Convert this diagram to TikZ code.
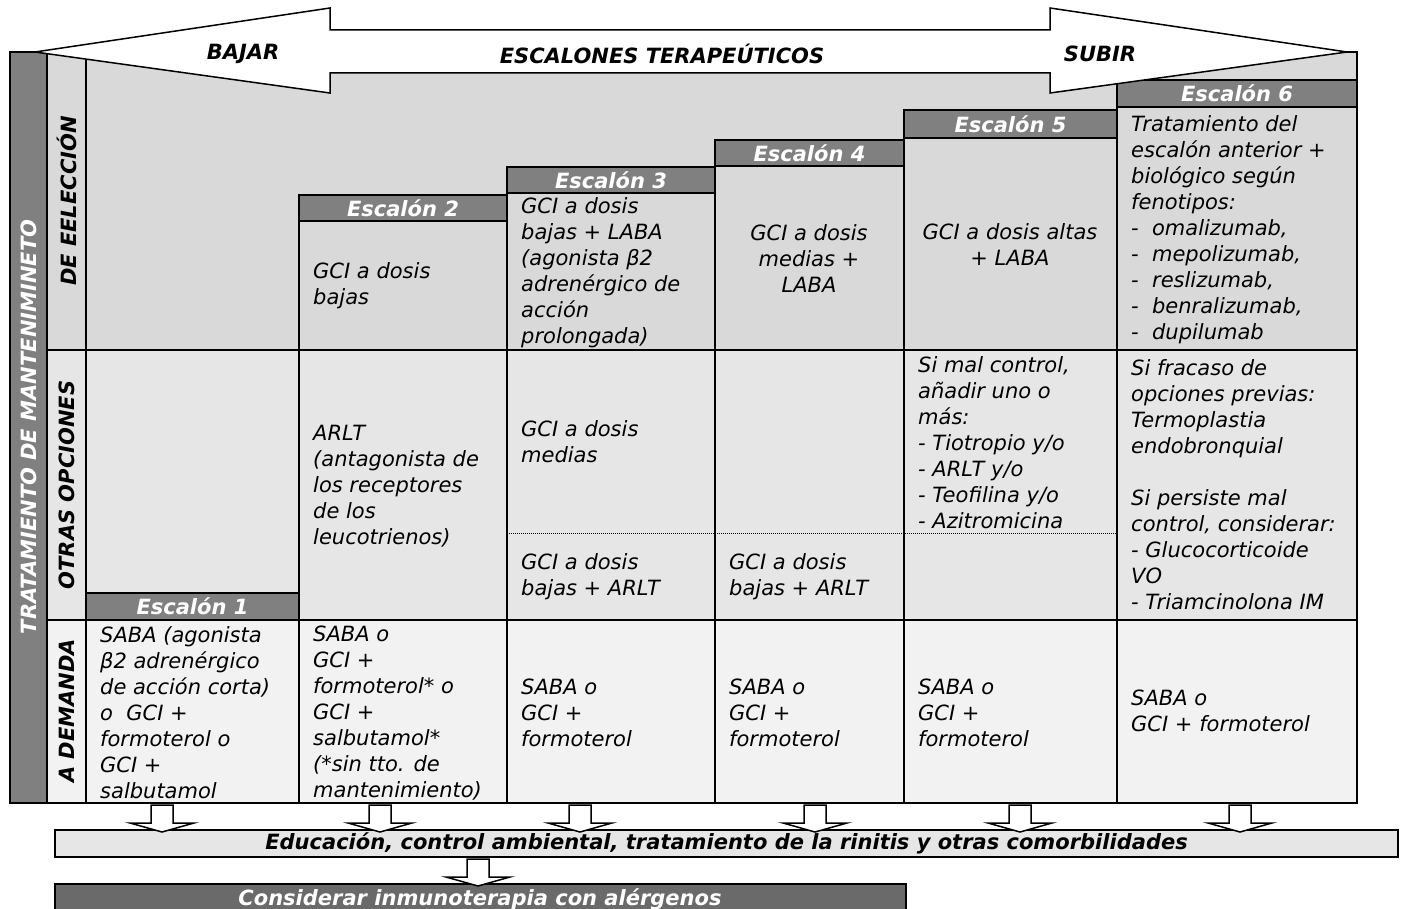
\documentclass[tikz,border=0pt]{standalone}
\usepackage{fontspec}
\setmainfont{DejaVu Sans}[ItalicFont={DejaVu Sans Oblique},BoldFont={DejaVu Sans Bold},BoldItalicFont={DejaVu Sans Bold Oblique}]

\definecolor{grisosc}{HTML}{808080}
\definecolor{grisbarra}{HTML}{6A6A6A}
\definecolor{gris1}{HTML}{D9D9D9}
\definecolor{gris2}{HTML}{E6E6E6}
\definecolor{gris3}{HTML}{F2F2F2}

\tikzset{
  linea/.style={line width=2.4pt},
  cel/.style={font=\itshape\fontsize{21}{26}\selectfont, align=left, inner sep=0pt, anchor=west},
  celc/.style={cel, align=center, anchor=center},
  negrita/.style={font=\bfseries\itshape\fontsize{21}{26}\selectfont, inner sep=0pt},
  escalon/.style={negrita, text=white, draw, fill=grisosc, line width=2.4pt},
  rotulo/.style={negrita, rotate=90},
  flechagrande/.style={draw, fill=white, line width=1.5pt},
  flecha/.style={draw, fill=white, line width=1.5pt}
}

% flecha de bloque hacia abajo: centro x, arriba y
\newcommand{\flechita}[2]{%
  \draw[flecha] (#1-11,#2) -- (#1+11,#2) -- (#1+11,#2+18) -- (#1+32,#2+18)
    -- (#1,#2+27) -- (#1-32,#2+18) -- (#1-11,#2+18) -- cycle;}

\begin{document}
\begin{tikzpicture}[x=1pt,y=-1pt]
    \clip (0,0) rectangle (1405,909);

    % fondos
    \fill[gris1] (47,52) rectangle (1357,350);
    \fill[gris2] (47,350) rectangle (1357,620);
    \fill[gris3] (47,620) rectangle (1357,803);
    \fill[grisosc] (10,52) rectangle (47,803);

    % rejilla
    \draw[linea] (10,52) rectangle (1357,803);
    \draw[linea] (47,52) -- (47,803);
    \draw[linea] (86,52) -- (86,803);
    \draw[linea] (47,350) -- (1357,350);
    \draw[linea] (47,620) -- (1357,620);
    \draw[linea] (299,195) -- (299,803);
    \draw[linea] (507,167) -- (507,803);
    \draw[linea] (715,140) -- (715,803);
    \draw[linea] (904,110) -- (904,803);
    \draw[linea] (1117,80) -- (1117,803);
    \draw[densely dotted, line width=1pt] (507,533) -- (1117,533);

    % escalones
    \node[escalon, minimum width=213, minimum height=27] (e1) at (192.5,606.5) {Escalón 1};
    \node[escalon, minimum width=208, minimum height=26] (e2) at (403,208) {Escalón 2};
    \node[escalon, minimum width=208, minimum height=26] (e3) at (611,180) {Escalón 3};
    \node[escalon, minimum width=189, minimum height=26] (e4) at (809.5,153) {Escalón 4};
    \node[escalon, minimum width=213, minimum height=28] (e5) at (1010.5,124) {Escalón 5};
    \node[escalon, minimum width=240, minimum height=27] (e6) at (1237,93.5) {Escalón 6};

    % flecha superior
    \draw[flechagrande] (35,52) -- (330,8) -- (330,30) -- (1050,30) -- (1050,8) -- (1347,52)
        -- (1050,93) -- (1050,73) -- (330,73) -- (330,93) -- cycle;
    \node[negrita] (bajar) at (243,54) {BAJAR};
    \node[negrita] (titulo) at (662,54) {ESCALONES TERAPEÚTICOS};
    \node[negrita] (subir) at (1100,54) {SUBIR};

    % rotulos laterales
    \node[rotulo, text=white] (trat) at (28.5,427) {TRATAMIENTO DE MANTENIMINETO};
    \node[rotulo] (elec) at (67,201) {DE EELECCIÓN};
    \node[rotulo] (otras) at (67,485) {OTRAS OPCIONES};
    \node[rotulo] (demanda) at (67,711) {A DEMANDA};

    % de eleccion
    \node[cel] (d2) at (313,286) {GCI a dosis\\bajas};
    \node[cel] (d3) at (521,273) {GCI a dosis\\bajas + LABA\\(agonista β2\\adrenérgico de\\acción\\prolongada)};
    \node[celc] (d4) at (809,259) {GCI a dosis\\medias +\\LABA};
    \node[celc] (d5) at (1010,245) {GCI a dosis altas\\+ LABA};
    \node[cel] (d6) at (1131,230) {Tratamiento del\\escalón anterior +\\biológico según\\fenotipos:\\-~~omalizumab,\\-~~mepolizumab,\\-~~reslizumab,\\-~~benralizumab,\\-~~dupilumab};

    % otras opciones
    \node[cel] (o2) at (313,486) {ARLT\\(antagonista de\\los receptores\\de los\\leucotrienos)};
    \node[cel] (o3a) at (521,442) {GCI a dosis\\medias};
    \node[cel] (o3b) at (521,577) {GCI a dosis\\bajas + ARLT};
    \node[cel] (o4b) at (729,577) {GCI a dosis\\bajas + ARLT};
    \node[cel] (o5) at (918,443) {Si mal control,\\añadir uno o\\más:\\- Tiotropio y/o\\- ARLT y/o\\- Teofilina y/o\\- Azitromicina};
    \node[cel] (o6) at (1131,485) {Si fracaso de\\opciones previas:\\Termoplastia\\endobronquial\\[26pt]Si persiste mal\\control, considerar:\\- Glucocorticoide\\VO\\- Triamcinolona IM};

    % a demanda
    \node[cel] (a1) at (100,713) {SABA (agonista\\β2 adrenérgico\\de acción corta)\\o~~GCI +\\formoterol o\\GCI +\\salbutamol};
    \node[cel] (a2) at (313,713) {SABA o\\GCI +\\formoterol* o\\GCI +\\salbutamol*\\(*sin tto. de\\mantenimiento)};
    \node[cel] (a3) at (521,713) {SABA o\\GCI +\\formoterol};
    \node[cel] (a4) at (729,713) {SABA o\\GCI +\\formoterol};
    \node[cel] (a5) at (918,713) {SABA o\\GCI +\\formoterol};
    \node[cel] (a6) at (1131,711) {SABA o\\GCI + formoterol};

    % barras inferiores
    \node[negrita, draw, fill=gris2, line width=2pt, minimum width=1343, minimum height=27] (educ) at (726.5,843.5)
        {Educación, control ambiental, tratamiento de la rinitis y otras comorbilidades};
    \draw[line width=2pt, fill=grisbarra] (55,884) rectangle (906,930);
    \node[negrita, text=white, anchor=base] (inmuno) at (480,905) {Considerar inmunoterapia con alérgenos};

    \flechita{162}{805}
    \flechita{380}{805}
    \flechita{580}{805}
    \flechita{815}{805}
    \flechita{1020}{805}
    \flechita{1240}{805}
    \flechita{478}{859}
\end{tikzpicture}
\end{document}
